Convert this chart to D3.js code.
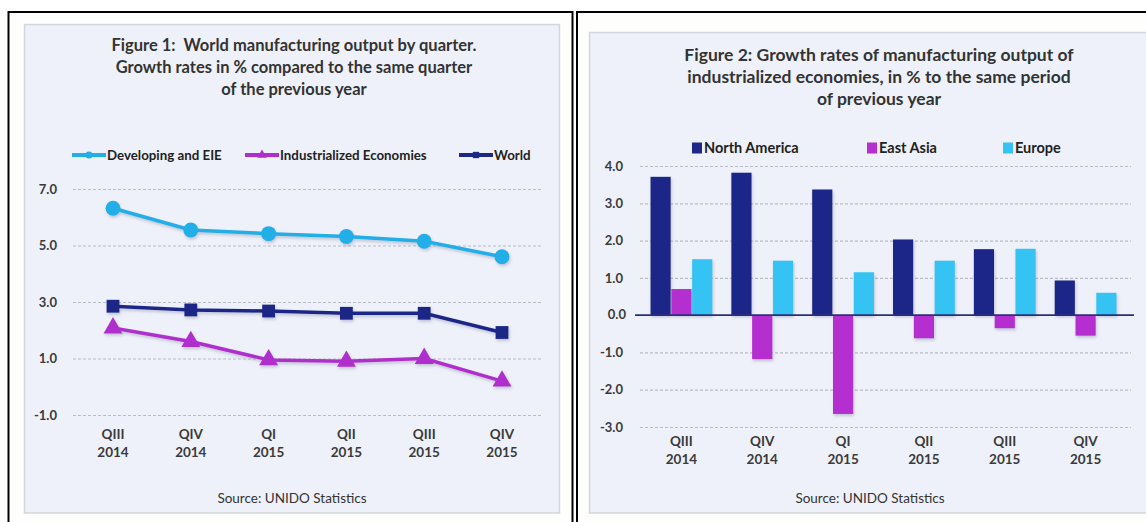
<!DOCTYPE html>
<html>
<head>
<meta charset="utf-8">
<script src="https://cdn.jsdelivr.net/npm/d3@7"></script>
<style>
  html, body { margin: 0; padding: 0; background: #ffffff; }
  svg { display: block; font-family: Lato, "Open Sans", sans-serif; }
  text { white-space: pre; }
</style>
</head>
<body>
<svg id="chart" width="1146" height="522"></svg>
<script>
// ---- Figure 1 data: growth rates by quarter (%)
const quarters = ["QIII 2014", "QIV 2014", "QI 2015", "QII 2015", "QIII 2015", "QIV 2015"];
const developing = [6.32, 5.55, 5.42, 5.32, 5.15, 4.6];
const industrialized = [2.08, 1.6, 0.95, 0.9, 1.0, 0.2];
const world = [2.85, 2.72, 2.68, 2.6, 2.6, 1.92];
const lineTicks = [-1, 1, 3, 5, 7];

// ---- Figure 2 data: industrialized regions (%)
const northAmerica = [3.71, 3.82, 3.37, 2.03, 1.77, 0.93];
const eastAsia = [0.7, -1.18, -2.65, -0.62, -0.35, -0.55];
const europe = [1.5, 1.46, 1.15, 1.46, 1.78, 0.6];
const barTicks = [-3, -2, -1, 0, 1, 2, 3, 4];

const C = {
  dev: "#22aee6", ind: "#b02ecc", world: "#1e2886",
  na: "#1e2888", ea: "#b42ed0", eu: "#34c3f3",
  text: "#3a3a3a", grid: "#b9bcc4", panel: "#eef1f9"
};
// tick labels use a plain hyphen for negatives
const fmt = d => d.toFixed(1);

const svg = d3.select("#chart");
const defs = svg.append("defs");
const sh = defs.append("filter").attr("id", "soft").attr("x", "-30%").attr("y", "-30%").attr("width", "160%").attr("height", "160%");
sh.append("feDropShadow").attr("dx", 1).attr("dy", 2).attr("stdDeviation", 1.5).attr("flood-color", "#6a6f90").attr("flood-opacity", 0.35);

// ---- frames
function frame(x0, x1, innerX0, innerX1, innerY0) {
  svg.append("rect").attr("x", x0).attr("y", 12).attr("width", x1 - x0).attr("height", 530)
    .attr("fill", "#fefefc").attr("stroke", "#000").attr("stroke-width", 2);
  svg.append("rect").attr("x", innerX0).attr("y", innerY0).attr("width", innerX1 - innerX0).attr("height", 513 - innerY0)
    .attr("fill", C.panel).attr("stroke", "#d3d6dd").attr("stroke-width", 1.5);
}
frame(8.5, 572.5, 24.5, 559.5, 24.5);
frame(577, 1160, 589.5, 1160, 32.5);

function title(lines, cx, y0, dy, size) {
  const t = svg.append("text").attr("text-anchor", "middle").attr("fill", "#333")
    .attr("font-size", size).attr("font-weight", 700);
  lines.forEach((l, i) => t.append("tspan").attr("x", cx).attr("y", y0 + i * dy).text(l));
}

function gridAxis(g, y, ticks, x0, x1, labelX) {
  const ax = d3.axisLeft(y).tickValues(ticks).tickFormat(fmt).tickSize(0);
  const a = g.append("g").attr("transform", `translate(${labelX},0)`).call(ax);
  a.select(".domain").remove();
  a.selectAll("text").attr("fill", C.text).attr("font-size", 13).attr("font-weight", 700)
    .attr("font-family", "Lato, sans-serif").attr("dx", 0);
  const gr = d3.axisLeft(y).tickValues(ticks).tickSize(-(x1 - x0)).tickFormat("");
  const gg = g.append("g").attr("transform", `translate(${x0},0)`).call(gr);
  gg.select(".domain").remove();
  gg.selectAll("line").attr("stroke", C.grid).attr("stroke-dasharray", "3,2").attr("stroke-width", 1.2);
}

function catLabels(g, xs, yTop) {
  quarters.forEach((q, i) => {
    const [a, b] = q.split(" ");
    const t = g.append("text").attr("text-anchor", "middle").attr("fill", C.text)
      .attr("font-size", 13.5).attr("font-weight", 700);
    t.append("tspan").attr("x", xs(i)).attr("y", yTop).text(a);
    t.append("tspan").attr("x", xs(i)).attr("y", yTop + 18).text(b);
  });
}

// ================= Figure 1 =================
title(["Figure 1:  World manufacturing output by quarter.",
       "Growth rates in % compared to the same quarter",
       "of the previous year"], 294, 51, 22, 16.5);

const g1 = svg.append("g");
const y1 = d3.scaleLinear().domain([-1, 7]).range([415, 189]);
const x1 = d3.scalePoint().domain(quarters).range([113, 502]);
gridAxis(g1, y1, lineTicks, 73, 543, 60);
catLabels(g1, i => x1(quarters[i]), 439);

const line1 = d3.line().x((d, i) => x1(quarters[i])).y(d => y1(d));
const series1 = [
  { name: "Developing and EIE", vals: developing, color: C.dev, shape: "circle" },
  { name: "Industrialized Economies", vals: industrialized, color: C.ind, shape: "triangle" },
  { name: "World", vals: world, color: C.world, shape: "square" }
];
const sym = {
  circle: d3.symbol().type(d3.symbolCircle).size(175),
  triangle: d3.symbol().type(d3.symbolTriangle).size(155),
  square: d3.symbol().type(d3.symbolSquare).size(165)
};
series1.forEach(s => {
  const sg = g1.append("g").attr("filter", "url(#soft)");
  sg.append("path").datum(s.vals).attr("d", line1).attr("fill", "none")
    .attr("stroke", s.color).attr("stroke-width", 3.5).attr("stroke-linejoin", "round");
  sg.selectAll("path.m").data(s.vals).join("path").attr("class", "m")
    .attr("d", sym[s.shape]).attr("fill", s.color)
    .attr("transform", (d, i) => `translate(${x1(quarters[i])},${y1(d)})`);
});

// legend figure 1
const leg1 = [
  { s: series1[0], x: 72 }, { s: series1[1], x: 245 }, { s: series1[2], x: 459 }
];
leg1.forEach(({ s, x }) => {
  const lg = svg.append("g").attr("transform", `translate(${x},155)`);
  lg.append("line").attr("x1", 0).attr("x2", 34).attr("stroke", s.color).attr("stroke-width", 4);
  const small = { circle: d3.symbolCircle, triangle: d3.symbolTriangle, square: d3.symbolSquare }[s.shape];
  lg.append("path").attr("d", d3.symbol().type(small).size(40)).attr("fill", s.color)
    .attr("transform", "translate(17,0)");
  lg.append("text").attr("x", 35).attr("y", 4.5).attr("fill", "#222")
    .attr("font-size", 13.3).attr("font-weight", 700).text(s.name);
});

svg.append("text").attr("x", 292).attr("y", 503).attr("text-anchor", "middle")
  .attr("fill", "#333").attr("font-size", 13.5).text("Source: UNIDO Statistics");

// ================= Figure 2 =================
title(["Figure 2: Growth rates of manufacturing output of",
       "industrialized economies, in % to the same period",
       "of previous year"], 879, 61, 22, 17.5);

const g2 = svg.append("g");
const y2 = d3.scaleLinear().domain([-3, 4]).range([427, 166]);
const x2 = d3.scaleBand().domain(quarters).range([641, 1126]).paddingInner(0.22).paddingOuter(0.11);
gridAxis(g2, y2, barTicks.filter(d => d !== 0), 640, 1131, 626);
catLabels(g2, i => x2(quarters[i]) + x2.bandwidth() / 2, 446);

const regions = [
  { name: "North America", vals: northAmerica, color: C.na },
  { name: "East Asia", vals: eastAsia, color: C.ea },
  { name: "Europe", vals: europe, color: C.eu }
];
const xs = d3.scaleBand().domain(regions.map(r => r.name)).range([0, x2.bandwidth()]).padding(0.03);
const barsG = g2.append("g").attr("filter", "url(#soft)");
regions.forEach(r => {
  barsG.selectAll(null).data(r.vals).join("rect")
    .attr("x", (d, i) => x2(quarters[i]) + xs(r.name))
    .attr("width", xs.bandwidth())
    .attr("y", d => y2(Math.max(0, d)))
    .attr("height", d => Math.abs(y2(d) - y2(0)))
    .attr("fill", r.color);
});
// zero baseline
g2.append("line").attr("x1", 635).attr("x2", 1134).attr("y1", y2(0)).attr("y2", y2(0))
  .attr("stroke", "#2a2f7a").attr("stroke-width", 1.8);
// zero tick label
g2.append("text").attr("x", 626).attr("y", y2(0)).attr("dy", "0.32em").attr("text-anchor", "end")
  .attr("fill", C.text).attr("font-size", 13).attr("font-weight", 700).text(fmt(0));

// legend figure 2
const leg2x = [692, 867, 1003];
regions.forEach((r, i) => {
  const lg = svg.append("g").attr("transform", `translate(${leg2x[i]},148)`);
  lg.append("rect").attr("x", 0).attr("y", -5.5).attr("width", 10).attr("height", 11).attr("fill", r.color);
  lg.append("text").attr("x", 12).attr("y", 5).attr("fill", "#222")
    .attr("font-size", 14.5).attr("font-weight", 700).text(r.name);
});

svg.append("text").attr("x", 870).attr("y", 503).attr("text-anchor", "middle")
  .attr("fill", "#333").attr("font-size", 13.5).text("Source: UNIDO Statistics");
</script>
</body>
</html>
